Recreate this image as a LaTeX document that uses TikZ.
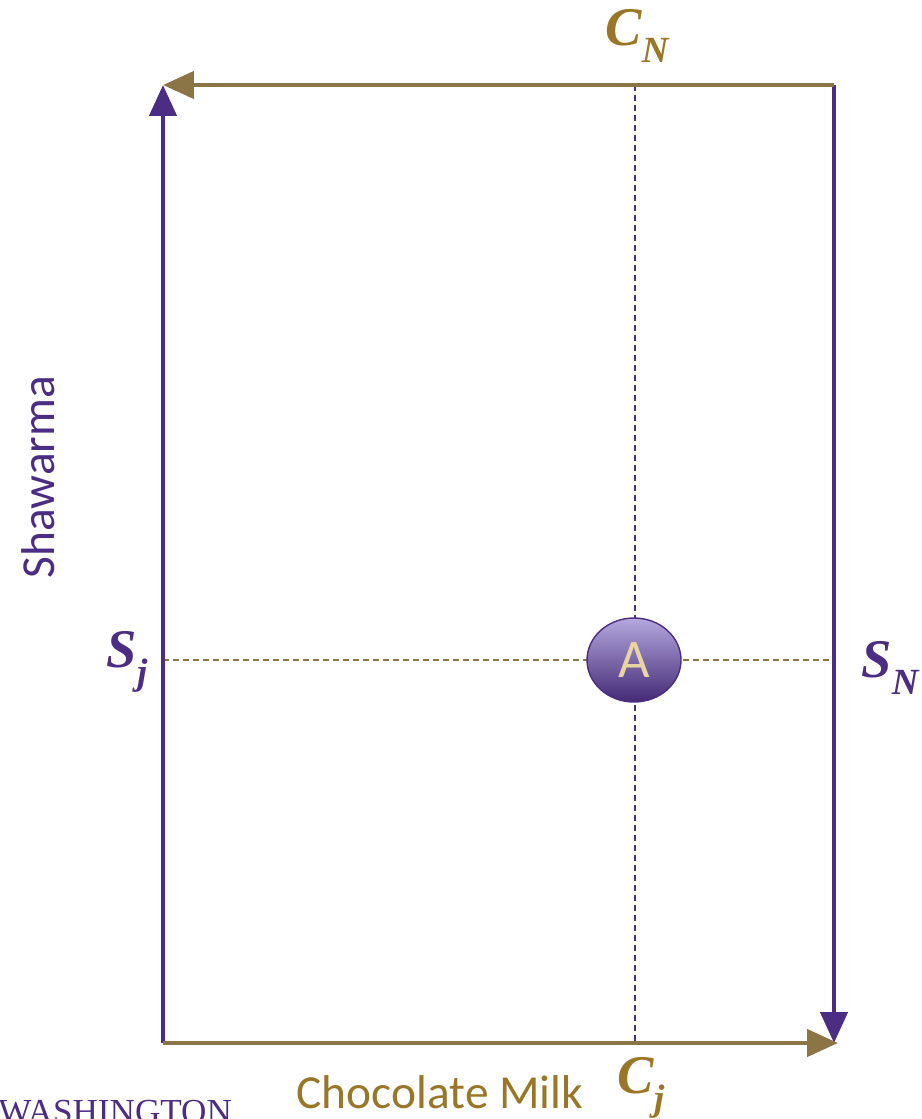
\documentclass[tikz,border=0pt]{standalone}
\usepackage{fontspec}
\setmainfont{Carlito}
\newfontfamily\mathlike{Liberation Serif}
\newfontfamily\logofont{Liberation Serif}
\usetikzlibrary{arrows.meta,shapes.geometric}
\definecolor{uwpurple}{HTML}{4B2E83}
\definecolor{uwgold}{HTML}{8B7446}
\definecolor{lblgold}{HTML}{9A7628}
\definecolor{lavender}{HTML}{B4A8DE}
\definecolor{beige}{HTML}{E8D5A0}

% subscripted axis label, bold italic
\newcommand{\axlabel}[2]{{\mathlike\bfseries\itshape\fontsize{31}{31}\selectfont #1\raisebox{-0.3em}{\fontsize{21}{21}\selectfont #2}}}

\begin{document}
\begin{tikzpicture}[x=0.02cm, y=-0.02cm,
  purpleline/.style={line width=2.6pt, uwpurple,
               -{Triangle[length=0.62cm, width=0.54cm]}},
  goldline/.style={line width=2.6pt, uwgold,
               -{Triangle[length=0.62cm, width=0.54cm]}},
  purpledash/.style={line width=0.8pt, uwpurple, dash pattern=on 0.12cm off 0.08cm},
  golddash/.style={line width=0.8pt, uwgold, dash pattern=on 0.12cm off 0.08cm},
  pointnode/.style={ellipse, draw=uwpurple, line width=0.8pt, top color=lavender,
               bottom color=uwpurple!90!black, minimum width=1.88cm, minimum height=1.68cm,
               inner sep=0pt, text=beige, font=\fontsize{31}{31}\selectfont},
  axistext/.style={font=\fontsize{27}{27}\selectfont},
]
\clip (0,0) rectangle (922,1119);

\coordinate (tl) at (163,85);
\coordinate (tr) at (834,85);
\coordinate (bl) at (163,1043);
\coordinate (br) at (834,1043);
\coordinate (brx) at (838,1043);
\coordinate (ctop) at (635,85);
\coordinate (cbot) at (635,1043);
\coordinate (sleft) at (163,660);
\coordinate (sright) at (834,660);

% dashed guides through A
\draw[purpledash] (ctop) -- (cbot);
\draw[golddash] (sleft) -- (sright);

\draw[purpleline] (bl) -- (tl);
\draw[purpleline] (tr) -- (br);
\draw[goldline] (tr) -- (tl);
\draw[goldline] (bl) -- (brx);

\node[pointnode] (A) at (634,660) {A};

\node[text=lblgold] (cn) at (637,36) {\axlabel{C}{N}};
\node[text=lblgold] (cj) at (641,1088) {\axlabel{C}{j}};
\node[text=uwpurple] (sj) at (127,662) {\axlabel{S}{j}};
\node[text=uwpurple] (sn) at (890,668) {\axlabel{S}{N}};

\node[axistext, text=lblgold] (milk) at (440,1092) {Chocolate Milk};
\node[axistext, text=uwpurple, rotate=90] (shaw) at (38,477) {Shawarma};

\node[anchor=base west, inner sep=0pt, text=uwpurple,
      font=\logofont\fontsize{20}{20}\selectfont] (uw) at (-2,1123) {WASHINGTON};
\end{tikzpicture}
\end{document}
